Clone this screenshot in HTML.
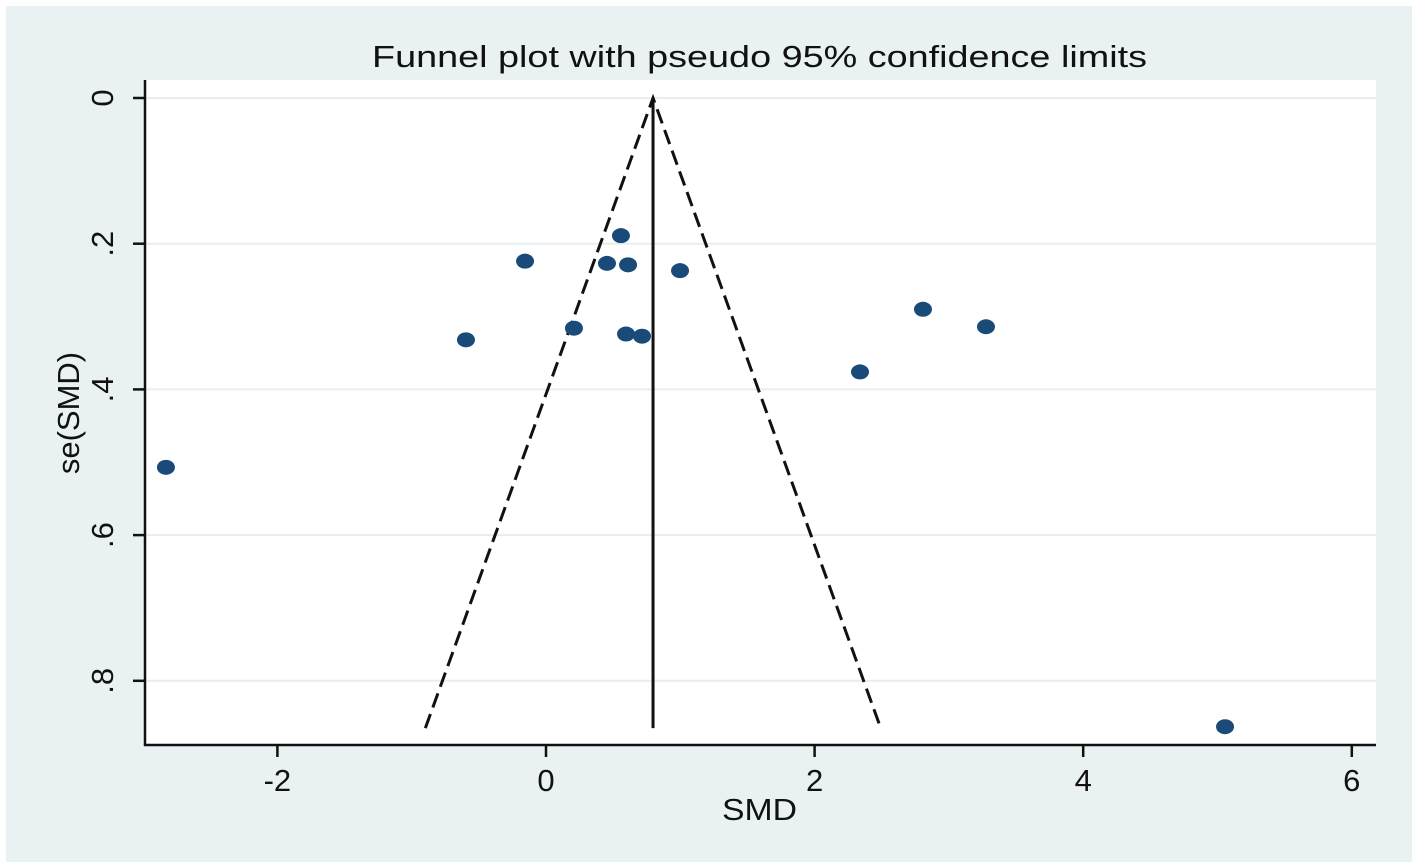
<!DOCTYPE html>
<html><head><meta charset="utf-8"><style>
body{margin:0;background:#fff;}
svg{display:block;font-family:"Liberation Sans",sans-serif;}
</style></head><body>
<svg id="chart" width="1418" height="868">
<rect x="6" y="6" width="1406" height="856" fill="#eaf1f3"/>
<rect x="145" y="80" width="1231" height="665" fill="#ffffff"/>
<text x="372" y="67" font-size="31" textLength="775" lengthAdjust="spacingAndGlyphs" fill="#111">Funnel plot with pseudo 95% confidence limits</text>
<g id="grid"></g><g id="funnel"></g><g id="pts"></g><g id="axes"></g>
<text x="722" y="820" font-size="31" textLength="75" lengthAdjust="spacingAndGlyphs" fill="#111">SMD</text>
<text transform="translate(79,413) rotate(-90)" font-size="31" text-anchor="middle" fill="#111">se(SMD)</text>
</svg>
<script>
const smd=[-2.83,-0.596,-0.156,0.208,0.454,0.558,0.611,0.596,0.715,0.998,2.338,2.807,3.276,5.056];
const se=[0.507,0.332,0.224,0.316,0.227,0.189,0.229,0.324,0.327,0.237,0.376,0.290,0.314,0.863];
const pooled=0.797;
const seMax=0.865;
const xTicks=[-2,0,2,4,6];
const yTicks=[0,0.2,0.4,0.6,0.8];
const yTickLabels=["0",".2",".4",".6",".8"];
const X=v=>546+v*134.3, Y=v=>98+v*728.5;
const NS="http://www.w3.org/2000/svg";
function mk(p,t,a){const e=document.createElementNS(NS,t);for(const k in a)e.setAttribute(k,a[k]);document.getElementById(p).appendChild(e);return e;}
yTicks.forEach((t,i)=>{
 const g=mk('grid','line',{x1:146,x2:1376,y1:Y(t),y2:Y(t),stroke:'#e6eef0','stroke-width':2});
 
 
 const k=mk('axes','line',{x1:133,x2:145,y1:Y(t),y2:Y(t),stroke:'#111','stroke-width':2.5});
 
 
 const l=mk('axes','text',{transform:`translate(113,${Y(t)}) rotate(-90)`,'font-size':31,'text-anchor':'middle',fill:'#111'});
 l.textContent=yTickLabels[i];
 
 
});
xTicks.forEach(t=>{
 const k=mk('axes','line',{x1:X(t),x2:X(t),y1:745,y2:757,stroke:'#111','stroke-width':2.5});
 
 
 const l=mk('axes','text',{x:X(t),y:791,'font-size':31,'text-anchor':'middle',fill:'#111'});
 l.textContent=String(t);
 
 
});
let a=mk('axes','line',{x1:145,x2:145,y1:80,y2:746,stroke:'#111','stroke-width':2.5});


a=mk('axes','line',{x1:144,x2:1376,y1:745,y2:745,stroke:'#111','stroke-width':2.5});


let f=mk('funnel','polyline',{points:`${X(pooled-1.96*seMax)},${Y(seMax)} ${X(pooled)},${Y(0)} ${X(pooled+1.96*seMax)},${Y(seMax)}`,fill:'none',stroke:'#111','stroke-width':3,'stroke-dasharray':'15,7'});


f=mk('funnel','line',{x1:X(pooled),x2:X(pooled),y1:Y(0),y2:Y(seMax),stroke:'#111','stroke-width':3});


smd.forEach((v,i)=>{
 const c=mk('pts','ellipse',{cx:X(v),cy:Y(se[i]),rx:9,ry:7.5,fill:'#1a4a78'});
 
 
});
</script>
</body></html>
